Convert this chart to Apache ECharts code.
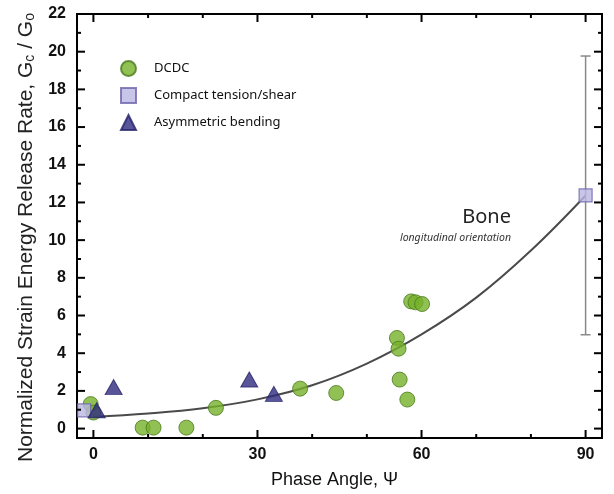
<!DOCTYPE html>
<html>
<head>
<meta charset="utf-8">
<script src="https://cdn.jsdelivr.net/npm/echarts@6/dist/echarts.min.js"></script>
<style>
html,body{margin:0;padding:0;background:#fff;}
#chart{width:614px;height:494px;}
</style>
</head>
<body>
<div id="chart"></div>
<script>
// ---- Data ----
const dcdcPoints = [[-0.5,1.3],[0,0.85],[9,0.05],[11,0.05],[17,0.05],[22.4,1.1],[37.8,2.12],[44.4,1.89],
  [55.5,4.81],[55.8,4.24],[56,2.6],[57.4,1.54],[58.1,6.75],[58.9,6.7],[60.1,6.61]];
const compactPoints = [[-1.7,0.97],[90,12.37]];
const asymPoints = [[0.6,0.97],[3.7,2.2],[28.5,2.6],[33,1.84]];
const errorBars = [[90, 4.98, 19.77]];
const fitX = [0,10,20,30,40,50,60,70,80,90];
const fitY = [0.62,0.8,1.08,1.55,2.3,3.45,5.0,6.95,9.45,12.37];
const xMinorTicks = [0,10,20,30,40,50,60,70,80,90];
const xMajorTicks = [0,30,60,90];
const yMinorTicks = [0,1,2,3,4,5,6,7,8,9,10,11,12,13,14,15,16,17,18,19,20,21,22];
const yMajorTicks = [0,2,4,6,8,10,12,14,16,18,20,22];
const seriesNames = ['DCDC','Compact tension/shear','Asymmetric bending'];
const xTitle = 'Phase Angle, Ψ';
const yTitle = 'Normalized Strain Energy Release Rate, G{s|c} / G{s|o}';
const annoTitle = 'Bone';
const annoSub = 'longitudinal orientation';

const X_MIN = -3, X_MAX = 93, Y_MIN = -0.5, Y_MAX = 22;
const MAJOR_LEN = 8, MINOR_LEN = 4;
const lab = {fontFamily:'Liberation Sans, Arial, sans-serif', fontSize:16, fontWeight:'bold', color:'#111'};

// tick rows: [axis (0 = x, 1 = y), value, isMajor]
const tickRows = [];
xMinorTicks.forEach(v => tickRows.push([0, v, xMajorTicks.indexOf(v) >= 0 ? 1 : 0]));
yMinorTicks.forEach(v => tickRows.push([1, v, yMajorTicks.indexOf(v) >= 0 ? 1 : 0]));

const chart = echarts.init(document.getElementById('chart'));
chart.setOption({
  animation:false,
  backgroundColor:'#fff',
  grid:{left:77, right:12, top:14, bottom:55, containLabel:false, show:true, borderColor:'#000', borderWidth:2, backgroundColor:'transparent'},
  legend:{
    orient:'vertical', left:115, top:55, padding:5, itemWidth:15, itemHeight:15, itemGap:10,
    textStyle:{fontFamily:'Noto Sans, Open Sans, sans-serif', fontSize:13, color:'#111', padding:[0,0,0,13]},
    data:[{name:seriesNames[0], icon:'circle'},{name:seriesNames[1], icon:'rect'},{name:seriesNames[2], icon:'triangle'}]
  },
  xAxis:{
    type:'value', min:X_MIN, max:X_MAX,
    axisLine:{show:true, onZero:false, lineStyle:{color:'#000', width:2}},
    axisTick:{show:false},
    axisLabel:Object.assign({show:true, customValues:xMajorTicks, margin:9}, lab),
    splitLine:{show:false},
    name:xTitle, nameLocation:'middle', nameGap:33,
    nameTextStyle:{fontFamily:'Liberation Sans, Arial, sans-serif', fontSize:18, color:'#111', padding:[0,10,0,0]}
  },
  yAxis:{
    type:'value', min:Y_MIN, max:Y_MAX,
    axisLine:{show:true, onZero:false, lineStyle:{color:'#000', width:2}},
    axisTick:{show:false},
    axisLabel:Object.assign({show:true, customValues:yMajorTicks, margin:11}, lab),
    splitLine:{show:false},
    name:yTitle, nameLocation:'middle', nameGap:38,
    nameTextStyle:{fontFamily:'Liberation Sans, Arial, sans-serif', fontSize:21, color:'#222', padding:[0,23,0,0],
      rich:{s:{fontFamily:'Liberation Sans, Arial, sans-serif', fontSize:14, color:'#222', verticalAlign:'bottom', padding:[9,0,0,0]}}}
  },
  graphic:[
    {type:'text', right:614-511, top:207, style:{text:annoTitle, font:'20px "Noto Sans", "Open Sans", sans-serif', fill:'#222'}},
    {type:'text', right:614-511, top:233, style:{text:annoSub, font:'italic 10.5px "Noto Sans", "Open Sans", sans-serif', fill:'#333'}}
  ],
  series:[
    {
      type:'custom', name:'ticks', data:tickRows, z:10, silent:true, clip:false,
      encode:{x:1, y:1},
      renderItem:function(params, api){
        const ax = api.value(0), v = api.value(1), major = api.value(2);
        const len = major ? MAJOR_LEN : MINOR_LEN;
        const st = {stroke:'#000', lineWidth:2};
        if (ax === 0) {
          const b = api.coord([v, Y_MIN]), t = api.coord([v, Y_MAX]);
          return {type:'group', children:[
            {type:'line', shape:{x1:b[0], y1:b[1], x2:b[0], y2:b[1]-len}, style:st},
            {type:'line', shape:{x1:t[0], y1:t[1], x2:t[0], y2:t[1]+len}, style:st}
          ]};
        }
        const l = api.coord([X_MIN, v]), r = api.coord([X_MAX, v]);
        return {type:'group', children:[
          {type:'line', shape:{x1:l[0], y1:l[1], x2:l[0]+len, y2:l[1]}, style:st},
          {type:'line', shape:{x1:r[0], y1:r[1], x2:r[0]-len, y2:r[1]}, style:st}
        ]};
      }
    },
    {
      type:'line', name:'fit', data:fitX.map((x,i)=>[x,fitY[i]]), smooth:0.4, symbol:'none',
      lineStyle:{color:'#4a4a4a', width:2}, z:2, silent:true
    },
    {
      type:'custom', name:'err', data:errorBars, z:3, silent:true,
      renderItem:function(params, api){
        const x = api.value(0), lo = api.value(1), hi = api.value(2);
        const pLo = api.coord([x, lo]), pHi = api.coord([x, hi]);
        const cap = 5;
        const st = {stroke:'#8a8a8a', lineWidth:1.5};
        return {type:'group', children:[
          {type:'line', shape:{x1:pLo[0], y1:pLo[1], x2:pHi[0], y2:pHi[1]}, style:st},
          {type:'line', shape:{x1:pLo[0]-cap, y1:pLo[1], x2:pLo[0]+cap, y2:pLo[1]}, style:st},
          {type:'line', shape:{x1:pHi[0]-cap, y1:pHi[1], x2:pHi[0]+cap, y2:pHi[1]}, style:st}
        ]};
      }
    },
    {
      type:'scatter', name:seriesNames[0], data:dcdcPoints, symbol:'circle', symbolSize:15, z:4,
      itemStyle:{color:'#76b02a', borderColor:'#4b7a1c', borderWidth:1}
    },
    {
      type:'scatter', name:seriesNames[1], data:compactPoints, symbol:'rect', symbolSize:13, z:5,
      itemStyle:{color:'#bab6e4', borderColor:'#6a63ad', borderWidth:1.2}
    },
    {
      type:'scatter', name:seriesNames[2], data:asymPoints, symbol:'triangle', symbolSize:[17,15], z:5,
      itemStyle:{color:'#2e2a7e', borderColor:'#25226a', borderWidth:1}
    }
  ]
});
</script>
</body>
</html>
